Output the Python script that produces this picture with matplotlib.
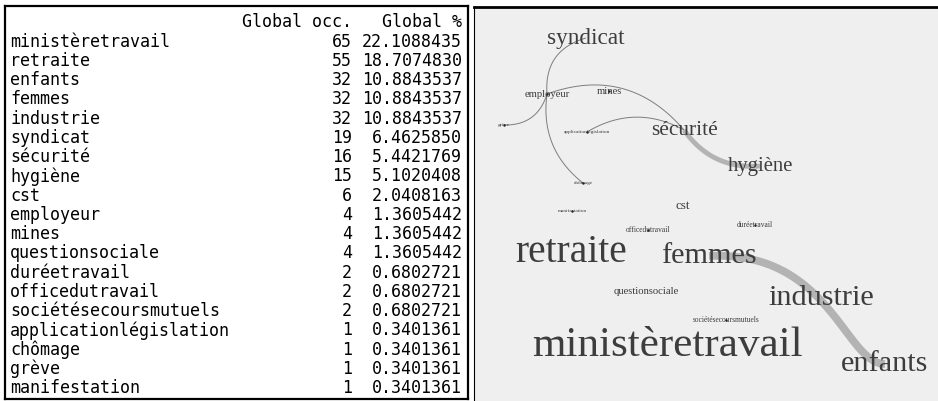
import numpy as np
import matplotlib
matplotlib.use("Agg")
import matplotlib.pyplot as plt

# --- données du tableau ---
mots = ["ministèretravail", "retraite", "enfants", "femmes", "industrie",
        "syndicat", "sécurité", "hygiène", "cst", "employeur", "mines",
        "questionsociale", "duréetravail", "officedutravail",
        "sociétésecoursmutuels", "applicationlégislation", "chômage",
        "grève", "manifestation"]
occ = [65, 55, 32, 32, 32, 19, 16, 15, 6, 4, 4, 4, 2, 2, 2, 1, 1, 1, 1]
pct = [22.1088435, 18.7074830, 10.8843537, 10.8843537, 10.8843537,
       6.4625850, 5.4421769, 5.1020408, 2.0408163, 1.3605442, 1.3605442,
       1.3605442, 0.6802721, 0.6802721, 0.6802721, 0.3401361, 0.3401361,
       0.3401361, 0.3401361]
entetes = ["Global occ.", "Global %"]

# --- disposition du réseau (coordonnées du layout, même ordre que mots) ---
layout_x = [193, 97, 411, 235, 347, 112, 210, 286, 209, 73, 135,
            172, 281, 174, 252, 113, 109, 30, 98]
layout_y = [339, 245, 357, 249, 291, 31, 123, 159, 199, 87, 84,
            285, 218, 223, 313, 125, 176, 118, 204]

# --- arêtes (cooccurrences) ---
arete_de = ["employeur", "employeur", "employeur", "employeur",
            "applicationlégislation", "sécurité", "femmes"]
arete_a = ["syndicat", "chômage", "grève", "sécurité",
           "sécurité", "hygiène", "enfants"]
arete_poids = [1, 1, 1, 1, 1, 5, 8]

# forme des courbes (u1, v1, u2, v2) dans le repère de la corde
courbure = [(1/3, -0.27, 2/3, -0.27),
            (1/3, 0.19, 2/3, 0.19),
            (1/3, -0.25, 2/3, -0.25),
            (1/3, -0.23, 2/3, -0.23),
            (1/3, -0.19, 2/3, -0.19),
            (1/3, 0.19, 2/3, 0.19),
            (0.484, -0.331, 0.835, 0.101)]

noeuds_points = ["employeur", "grève", "applicationlégislation", "chômage",
                 "officedutravail", "duréetravail", "sociétésecoursmutuels",
                 "manifestation", "mines"]


def bezier(p0, p3, u1, v1, u2, v2, n=80):
    p0 = np.array(p0, float)
    p3 = np.array(p3, float)
    corde = p3 - p0
    perp = np.array([-corde[1], corde[0]])
    p1 = p0 + u1 * corde + v1 * perp
    p2 = p0 + u2 * corde + v2 * perp
    t = np.linspace(0, 1, n)[:, None]
    pts = ((1 - t) ** 3) * p0 + 3 * ((1 - t) ** 2) * t * p1 + 3 * (1 - t) * t ** 2 * p2 + t ** 3 * p3
    return pts[:, 0], pts[:, 1]


fig = plt.figure(figsize=(9.38, 4.01), dpi=100)
fig.patch.set_facecolor("white")

# 1. Tableau (sortie console)
ax1 = fig.add_axes([5 / 938, 2 / 401, 463 / 938, 393 / 401])
ax1.set_xlim(0, 463)
ax1.set_ylim(393, 0)
ax1.set_xticks([])
ax1.set_yticks([])
for s in ax1.spines.values():
    s.set_linewidth(1.6)
    s.set_color("black")

police = dict(family="DejaVu Sans Mono", fontsize=12, color="black", va="center")
ax1.text(346.7, 15.7, entetes[0], ha="right", **police)
ax1.text(456.7, 15.7, entetes[1], ha="right", **police)
for i, (m, o, p) in enumerate(zip(mots, occ, pct)):
    y = 35.7 + 19.24 * i
    ax1.text(5, y, m, ha="left", **police)
    ax1.text(346.7, y, str(o), ha="right", **police)
    ax1.text(456.7, y, "%.7f" % p, ha="right", **police)

# 2. Réseau de cooccurrences
ax2 = fig.add_axes([474 / 938, 0, 464 / 938, 394 / 401])
ax2.set_facecolor("#efefef")
ax2.set_xlim(0, 464)
ax2.set_ylim(394, 0)
ax2.set_xticks([])
ax2.set_yticks([])
for nom, s in ax2.spines.items():
    s.set_visible(nom in ("top", "left"))
ax2.spines["top"].set_linewidth(2)
ax2.spines["left"].set_linewidth(0.8)

pos = {m: (x, y) for m, x, y in zip(mots, layout_x, layout_y)}

for de, a, w, c in zip(arete_de, arete_a, arete_poids, courbure):
    xs, ys = bezier(pos[de], pos[a], *c)
    couleur = "#b3b3b3" if w > 1 else "#7d7d7d"
    ax2.plot(xs, ys, color=couleur, lw=0.7 * w, solid_capstyle="butt", zorder=1)

for m, o in zip(mots, occ):
    x, y = pos[m]
    ax2.text(x, y, m, fontsize=3.85 * np.sqrt(o), family="Liberation Serif",
             color="#3d3d3d", ha="center", va="center", zorder=3)

px = [pos[m][0] for m in noeuds_points]
py = [pos[m][1] for m in noeuds_points]
ax2.scatter(px, py, s=3, color="#222222", zorder=4, linewidths=0)

fig.savefig("out.png", dpi=100)
